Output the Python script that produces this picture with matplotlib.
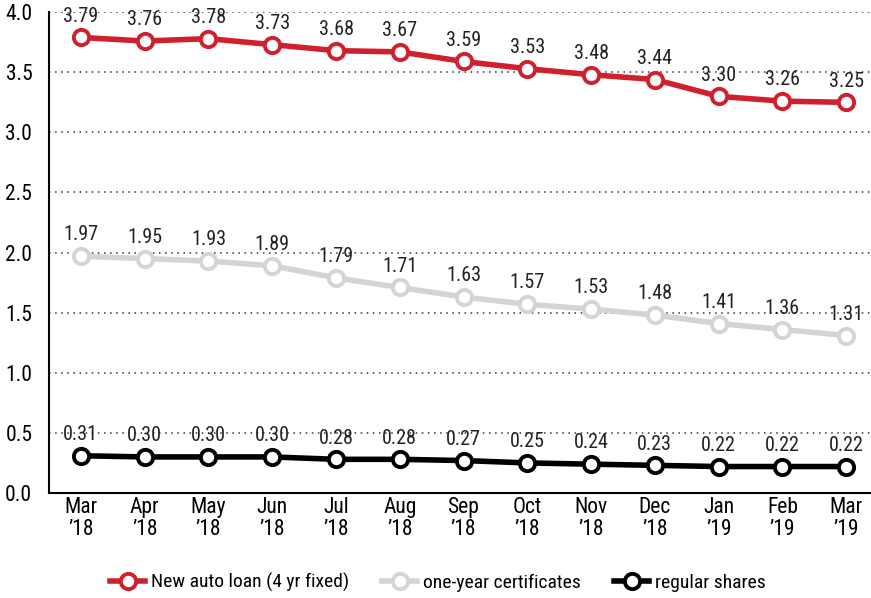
import matplotlib.pyplot as plt

months = ['Mar\n\u201918', 'Apr\n\u201918', 'May\n\u201918', 'Jun\n\u201918', 'Jul\n\u201918', 'Aug\n\u201918',
          'Sep\n\u201918', 'Oct\n\u201918', 'Nov\n\u201918', 'Dec\n\u201918', 'Jan\n\u201919', 'Feb\n\u201919',
          'Mar\n\u201919']
auto_loan = [3.79, 3.76, 3.78, 3.73, 3.68, 3.67, 3.59, 3.53, 3.48, 3.44, 3.30, 3.26, 3.25]
certificates = [1.97, 1.95, 1.93, 1.89, 1.79, 1.71, 1.63, 1.57, 1.53, 1.48, 1.41, 1.36, 1.31]
shares = [0.31, 0.30, 0.30, 0.30, 0.28, 0.28, 0.27, 0.25, 0.24, 0.23, 0.22, 0.22, 0.22]

plt.rcParams['font.family'] = ['Roboto Condensed', 'DejaVu Sans']

fig = plt.figure(figsize=(8.71, 5.98), dpi=100)
ax = fig.add_axes([0.0563, 0.1756, 0.943, 0.804])

series = [
    (auto_loan, '#d0202e', 'New auto loan (4 yr fixed)'),
    (certificates, '#d4d4d4', 'one-year certificates'),
    (shares, '#000000', 'regular shares'),
]
x = list(range(len(months)))
for vals, col, lab in series:
    ax.plot(x, vals, color=col, lw=4, marker='o', ms=11, mfc='white', mec=col, mew=2.8,
            label=lab, zorder=3, clip_on=False)
    for xi, v in zip(x, vals):
        ax.annotate(f'{v:.2f}', (xi, v), xytext=(0, 8.5), textcoords='offset points',
                    ha='center', va='bottom', fontsize=14.5, color='#222222')

ax.set_xlim(-0.5, 12.38)
ax.set_ylim(0, 4.0)
ax.set_yticks([0, 0.5, 1.0, 1.5, 2.0, 2.5, 3.0, 3.5, 4.0])
ax.set_yticklabels([f'{t:.1f}' for t in ax.get_yticks()], fontsize=15.5)
ax.set_xticks(x)
ax.set_xticklabels(months, fontsize=15.5, linespacing=1.05)
ax.tick_params(length=0, pad=3)
ax.tick_params(axis='y', pad=12)

for g in [0.5, 1.0, 1.5, 2.0, 2.5, 3.0, 3.5, 4.0]:
    ax.axhline(g, color='#333333', lw=1.1, ls=(0, (1, 3)), zorder=1)

ax.spines['top'].set_visible(False)
ax.spines['right'].set_visible(False)
ax.spines['left'].set_linewidth(1.5)
ax.spines['bottom'].set_linewidth(1.5)

fig.legend(loc='lower center', bbox_to_anchor=(0.503, -0.02), ncol=3, frameon=False,
           fontsize=14, handlelength=1.8, columnspacing=1.7, handletextpad=0.3)

fig.savefig('out.png', dpi=100)
